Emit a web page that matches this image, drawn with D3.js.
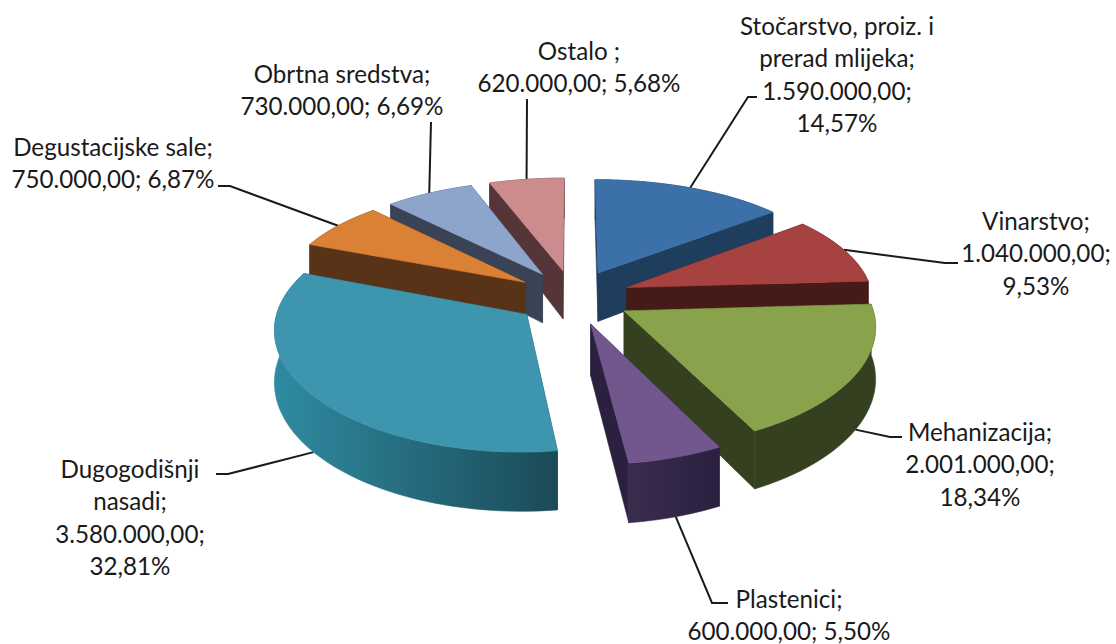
<!DOCTYPE html>
<html>
<head>
<meta charset="utf-8">
<script src="https://cdn.jsdelivr.net/npm/d3@7"></script>
<style>
  html, body { margin: 0; background: #fff; }
  svg { display: block; }
  .label { font-family: Lato, "Open Sans", sans-serif; font-size: 24.2px; fill: #1a1a1a; text-anchor: middle; }
  .leader { fill: none; stroke: #1a1a1a; stroke-width: 2; }
</style>
</head>
<body>
<svg id="chart" width="1116" height="644"></svg>
<script>
/* data */
const categories = [
  ["Stočarstvo, proiz. i", "prerad mlijeka;"],
  ["Vinarstvo;"],
  ["Mehanizacija;"],
  ["Plastenici;"],
  ["Dugogodišnji", "nasadi;"],
  ["Degustacijske sale;"],
  ["Obrtna sredstva;"],
  ["Ostalo ;"]
];
const values = [1590000, 1040000, 2001000, 600000, 3580000, 750000, 730000, 620000];
const percents = [14.57, 9.53, 18.34, 5.50, 32.81, 6.87, 6.69, 5.68];
const valueOnOneLine = [false, false, false, true, false, true, true, true];

/* colours */
const topColors = ["#3c70a8", "#a64340", "#89a34c", "#72578f", "#3e95ae", "#da8135", "#8da4cb", "#cc8b8d"];
const wallRight = ["#1f3d5c", "#451a17", "#354020", "#2b2040", "#1b4a58", "#593318", "#3a4356", "#553538"];
const wallLeft = ["#1f3d5c", "#451a17", "#354020", "#3a2c4c", "#2f8ba1", "#593318", "#3a4356", "#553538"];

/* layout: label centre x, first baseline y, leader bend points */
const labelPos = [
  { x: 837, y: 35 }, { x: 1036, y: 230 }, { x: 980, y: 441 }, { x: 789, y: 608 },
  { x: 130, y: 478 }, { x: 113, y: 156 }, { x: 342, y: 83 }, { x: 579, y: 60 }
];
const leaderBends = [
  [[748, 97], [757, 97]], [[945, 263], [958, 263]], [[890, 437], [902, 437]], [[712, 603], [728, 603]],
  [[228, 474], [216, 474]], [[230, 186], [218, 186]], [[431, 122]], [[527, 99]]
];
const paintOrder = [0, 1, 2, 7, 6, 5, 4, 3];
const lineStep = 32.4;

/* pie geometry */
const cx = 573, cy = 297;
const R = 246, explode = 58, H = 50;
const tilt = 0.474, persY = 0.14, persX = 0.115, persH = 0.16;

// world plane: x right, y toward the viewer, h up
function project(x, y, h) {
  const k = y / R;
  return [
    cx + x * (1 + persX * k),
    cy + tilt * y * (1 + persY * k) - h * (1 + persH * k)
  ];
}

const arcs = d3.pie().sort(null)(values);
const svg = d3.select("#chart");
const defs = svg.append("defs");
const line = d3.line();

const slices = arcs.map((a, i) => {
  const mid = (a.startAngle + a.endAngle) / 2;
  const ox = explode * Math.sin(mid), oy = -explode * Math.cos(mid);
  const steps = Math.max(4, Math.ceil((a.endAngle - a.startAngle) / 0.03));
  const rim = d3.range(steps + 1).map(j => {
    const t = a.startAngle + (a.endAngle - a.startAngle) * j / steps;
    return [ox + R * Math.sin(t), oy - R * Math.cos(t)];
  });
  return { i, mid, ox, oy, rim };
});

// side face between two or more plane points, from h=0 down to h=-H
function sidePath(pts) {
  const top = pts.map(p => project(p[0], p[1], 0));
  const bottom = pts.slice().reverse().map(p => project(p[0], p[1], -H));
  return line([...top, ...bottom]) + "Z";
}

/* leader lines go under the slices */
const leaderG = svg.append("g");
slices.forEach(s => {
  const front = Math.cos(s.mid) < 0;
  const anchor = project(s.ox + R * Math.sin(s.mid), s.oy - R * Math.cos(s.mid), front ? -H : 0);
  leaderG.append("path").attr("class", "leader")
    .attr("d", line([anchor, ...leaderBends[s.i]]));
});

/* slices, back to front */
const sliceG = svg.append("g");
paintOrder.forEach(i => {
  const s = slices[i];
  const g = sliceG.append("g");
  const apex = [s.ox, s.oy];
  const first = s.rim[0], last = s.rim[s.rim.length - 1];

  const screenX = s.rim.map(p => project(p[0], p[1], 0)[0]);
  const grad = defs.append("linearGradient").attr("id", "wall" + i)
    .attr("gradientUnits", "userSpaceOnUse")
    .attr("x1", d3.min(screenX)).attr("x2", d3.max(screenX)).attr("y1", 0).attr("y2", 0);
  grad.append("stop").attr("offset", 0).attr("stop-color", wallLeft[i]);
  grad.append("stop").attr("offset", 1).attr("stop-color", wallRight[i]);

  const outer = () => g.append("path").attr("d", sidePath(s.rim))
    .attr("fill", `url(#wall${i})`).attr("stroke", `url(#wall${i})`).attr("stroke-width", 0.6);
  const radial = () => [first, last].forEach(p => {
    g.append("path").attr("d", sidePath([apex, p]))
      .attr("fill", wallRight[i]).attr("stroke", wallRight[i]).attr("stroke-width", 0.6);
  });

  // far faces first
  if (Math.cos(s.mid) > 0) { outer(); radial(); } else { radial(); outer(); }

  g.append("path")
    .attr("d", line([apex, ...s.rim].map(p => project(p[0], p[1], 0))) + "Z")
    .attr("fill", topColors[i]).attr("stroke", topColors[i]).attr("stroke-width", 0.6);
});

/* labels */
const locale = d3.formatLocale({ decimal: ",", thousands: ".", grouping: [3], currency: ["", ""] });
const fmtValue = locale.format(",.2f");
const fmtPct = locale.format(".2f");

categories.forEach((names, i) => {
  const v = fmtValue(values[i]) + ";";
  const p = fmtPct(percents[i]) + "%";
  const lines = valueOnOneLine[i] ? [...names, v + " " + p] : [...names, v, p];
  const t = svg.append("text").attr("class", "label");
  lines.forEach((l, j) => {
    t.append("tspan").attr("x", labelPos[i].x).attr("y", labelPos[i].y + j * lineStep).text(l);
  });
});
</script>
</body>
</html>
